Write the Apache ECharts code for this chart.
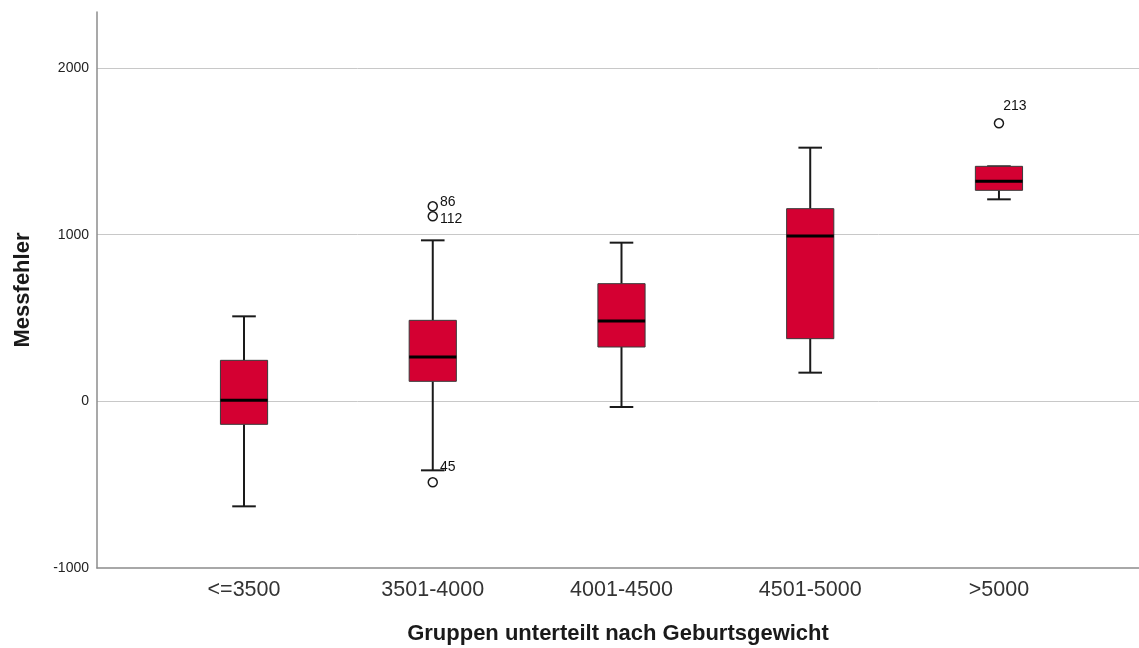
<!DOCTYPE html>
<html>
<head>
<meta charset="utf-8">
<script src="https://cdn.jsdelivr.net/npm/echarts@6/dist/echarts.min.js"></script>
<style>
  html, body { margin: 0; padding: 0; background: #fff; }
  #chart { width: 1139px; height: 648px; }
</style>
</head>
<body>
<div id="chart"></div>
<script>
// ---- data ----
const categories = ['<=3500', '3501-4000', '4001-4500', '4501-5000', '>5000'];
const whiskerLow = [-630, -414, -34, 172, 1212];
const q1Values   = [-138, 120, 326, 376, 1266];
const medians    = [6, 266, 482, 992, 1320];
const q3Values   = [246, 486, 706, 1156, 1410];
const whiskerHigh = [510, 966, 952, 1522, 1410];
// outliers: [category index, value, case id]
const outlierCat = [1, 1, 1, 4];
const outlierVal = [1170, 1110, -486, 1668];
const outlierId  = ['86', '112', '45', '213'];
const yTicks = [-1000, 0, 1000, 2000];

// ---- styling / layout ----
const labelNudge = { '86': [0, -4], '112': [0, 3], '45': [0, -15], '213': [-3, -17] };
const FONT = 'Liberation Sans, Arial, sans-serif';
const BOX_W = 0.25;   // in category units
const CAP_W = 0.125;

const boxData = categories.map((c, i) => [i, whiskerLow[i], q1Values[i], medians[i], q3Values[i], whiskerHigh[i]]);
const outlierData = outlierCat.map((c, i) => ({ value: [c, outlierVal[i]], name: outlierId[i],
  label: { offset: labelNudge[outlierId[i]] } }));

function renderBox(params, api) {
  const x = api.value(0);
  const pLow = api.coord([x, api.value(1)]);
  const pQ1 = api.coord([x, api.value(2)]);
  const pMed = api.coord([x, api.value(3)]);
  const pQ3 = api.coord([x, api.value(4)]);
  const pHigh = api.coord([x, api.value(5)]);
  const bw = api.size([BOX_W, 0])[0];
  const cw = api.size([CAP_W, 0])[0];
  const cx = pQ1[0];
  const lineStyle = { stroke: '#1a1a1a', lineWidth: 2 };
  return {
    type: 'group',
    children: [
      { type: 'line', shape: { x1: cx, y1: pHigh[1], x2: cx, y2: pQ3[1] }, style: lineStyle },
      { type: 'line', shape: { x1: cx, y1: pQ1[1], x2: cx, y2: pLow[1] }, style: lineStyle },
      { type: 'line', shape: { x1: cx - cw / 2, y1: pHigh[1], x2: cx + cw / 2, y2: pHigh[1] }, style: lineStyle },
      { type: 'line', shape: { x1: cx - cw / 2, y1: pLow[1], x2: cx + cw / 2, y2: pLow[1] }, style: lineStyle },
      { type: 'rect', shape: { x: cx - bw / 2, y: pQ3[1], width: bw, height: pQ1[1] - pQ3[1] },
        style: { fill: '#d40032', stroke: '#3a3a3a', lineWidth: 1 } },
      { type: 'line', shape: { x1: cx - bw / 2, y1: pMed[1], x2: cx + bw / 2, y2: pMed[1] },
        style: { stroke: '#000', lineWidth: 3 } }
    ]
  };
}

const chart = echarts.init(document.getElementById('chart'), null, { renderer: 'canvas' });
chart.setOption({
  backgroundColor: '#fff',
  animation: false,
  grid: { left: 97, right: 0, top: 12, bottom: 80, containLabel: false, outerBoundsMode: 'none' },
  xAxis: {
    type: 'value',
    min: -0.779,
    max: 4.742,
    name: 'Gruppen unterteilt nach Geburtsgewicht',
    nameLocation: 'middle',
    nameGap: 55,
    nameTextStyle: { fontFamily: FONT, fontSize: 22, fontWeight: 'bold', color: '#1a1a1a' },
    axisLine: { show: true, onZero: false, lineStyle: { color: '#8c8c8c', width: 1.5 } },
    axisTick: { show: false },
    splitLine: { show: false },
    axisLabel: {
      customValues: categories.map((c, i) => i),
      formatter: v => categories[Math.round(v)],
      fontFamily: FONT, fontSize: 21.5, color: '#333', margin: 11
    }
  },
  yAxis: {
    type: 'value',
    min: -1000,
    max: 2336,
    interval: 1000,
    name: 'Messfehler',
    nameLocation: 'middle',
    nameGap: 63,
    nameTextStyle: { fontFamily: FONT, fontSize: 22, fontWeight: 'bold', color: '#1a1a1a' },
    axisLine: { show: true, onZero: false, lineStyle: { color: '#8c8c8c', width: 1.5 } },
    axisTick: { show: false },
    splitLine: { show: true, showMaxLine: false, showMinLine: false, lineStyle: { color: '#c8c8c8', width: 1 } },
    axisLabel: {
      customValues: yTicks,
      formatter: v => String(v),
      fontFamily: FONT, fontSize: 14, color: '#222', margin: 8
    }
  },
  series: [
    {
      type: 'custom',
      renderItem: renderBox,
      data: boxData,
      encode: { x: 0, y: [1, 2, 3, 4, 5] },
      z: 2
    },
    {
      type: 'scatter',
      data: outlierData,
      symbol: 'circle',
      symbolSize: 9,
      itemStyle: { color: 'rgba(255,255,255,0)', borderColor: '#1a1a1a', borderWidth: 1.5, opacity: 1 },
      label: {
        show: true,
        position: 'right',
        distance: 2,
        formatter: p => p.name,
        fontFamily: FONT, fontSize: 14, color: '#111'
      },
      z: 3
    }
  ]
});
</script>
</body>
</html>
